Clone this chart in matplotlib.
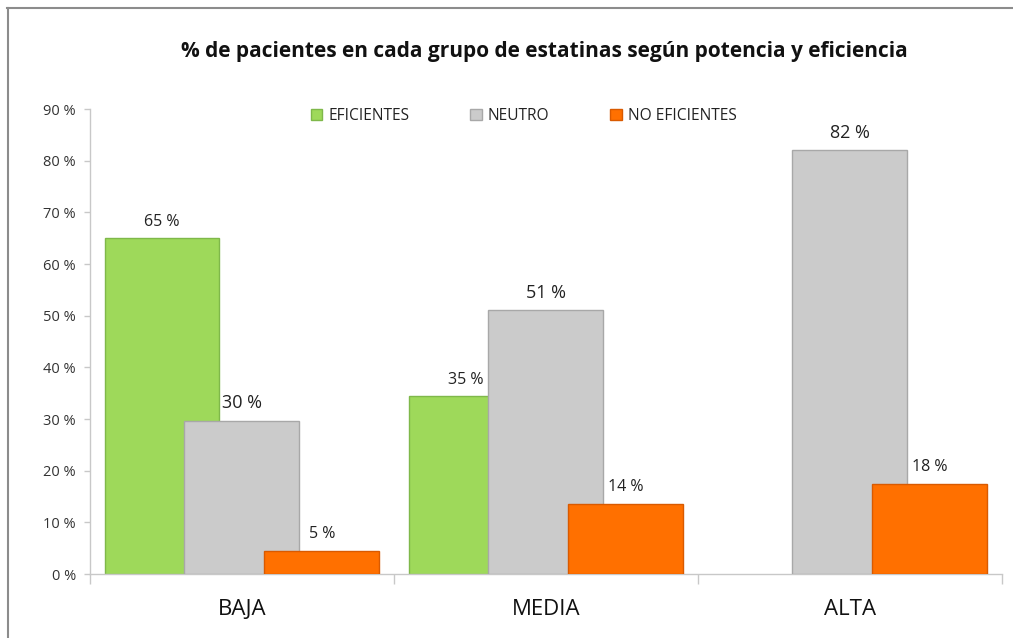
import matplotlib
matplotlib.use("Agg")
import matplotlib.pyplot as plt
import numpy as np
from matplotlib.lines import Line2D
from matplotlib.patches import Patch

categories = ["BAJA", "MEDIA", "ALTA"]
series_names = ["EFICIENTES", "NEUTRO", "NO EFICIENTES"]
eficientes = [65.0, 34.5, 0.0]
neutro = [29.7, 51.1, 82.0]
no_eficientes = [4.5, 13.6, 17.5]
label_eficientes = ["65 %", "35 %", None]
label_neutro = ["30 %", "51 %", "82 %"]
label_no_eficientes = ["5 %", "14 %", "18 %"]
yticks = [0, 10, 20, 30, 40, 50, 60, 70, 80, 90]
ytick_labels = [f"{v} %" for v in yticks]

colors = ["#9ED95A", "#CBCBCB", "#FF7000"]
edges = ["#7FB84A", "#A8A8A8", "#D95A00"]
label_sizes = [11.5, 13, 11.5]

plt.rcParams["font.family"] = ["Open Sans", "DejaVu Sans"]

fig = plt.figure(figsize=(10.13, 6.38), dpi=100)
ax = fig.add_axes([0.0888, 0.1003, 0.9002, 0.7287])

x = np.arange(len(categories))
width = 0.378
offset = 0.263
data = [eficientes, neutro, no_eficientes]
labels = [label_eficientes, label_neutro, label_no_eficientes]

for i, (vals, labs) in enumerate(zip(data, labels)):
    pos = x + (i - 1) * offset
    for j, (p, v, lab) in enumerate(zip(pos, vals, labs)):
        if v <= 0:
            continue
        ax.bar(p, v, width=width, color=colors[i], edgecolor=edges[i],
               linewidth=1.0, zorder=2 + i)
        if lab:
            ax.text(p, v + 1.6, lab, ha="center", va="bottom",
                    fontsize=label_sizes[i], color="#222222", zorder=10)

ax.set_xlim(-0.5, 2.5)
ax.set_ylim(0, 90)
ax.set_yticks(yticks)
ax.set_yticklabels(ytick_labels, fontsize=10.5, color="#333333")
ax.set_xticks(x)
ax.set_xticklabels(categories, fontsize=16, color="#111111")
ax.set_xticks([-0.5, 0.5, 1.5, 2.5], minor=True)
ax.tick_params(axis="x", which="major", length=0, pad=18)
ax.tick_params(axis="x", which="minor", length=7, color="#C8C8C8", width=1)
ax.tick_params(axis="y", length=4, color="#C8C8C8", width=1, pad=6)
for s in ["top", "right"]:
    ax.spines[s].set_visible(False)
for s in ["left", "bottom"]:
    ax.spines[s].set_color("#C8C8C8")
    ax.spines[s].set_linewidth(1)

fig.text(0.537, 0.92, "% de pacientes en cada grupo de estatinas según potencia y eficiencia",
         ha="center", va="center", fontsize=15, fontweight="bold", color="#111111")

handles = [Patch(facecolor=c, edgecolor=e, label=n) for c, e, n in zip(colors, edges, series_names)]
fig.legend(handles=handles, loc="center", bbox_to_anchor=(0.517, 0.818), ncol=3,
           frameon=False, fontsize=11.2, handlelength=0.75, handleheight=0.75,
           handletextpad=0.4, columnspacing=3.9, labelcolor="#222222")

fig.add_artist(Line2D([0.007, 1.0], [0.988, 0.988], transform=fig.transFigure,
                      color="#8C8C8C", linewidth=1.5))
fig.add_artist(Line2D([0.0075, 0.0075], [0.0, 0.988], transform=fig.transFigure,
                      color="#8C8C8C", linewidth=1.5))

fig.savefig("out.png", dpi=100)
